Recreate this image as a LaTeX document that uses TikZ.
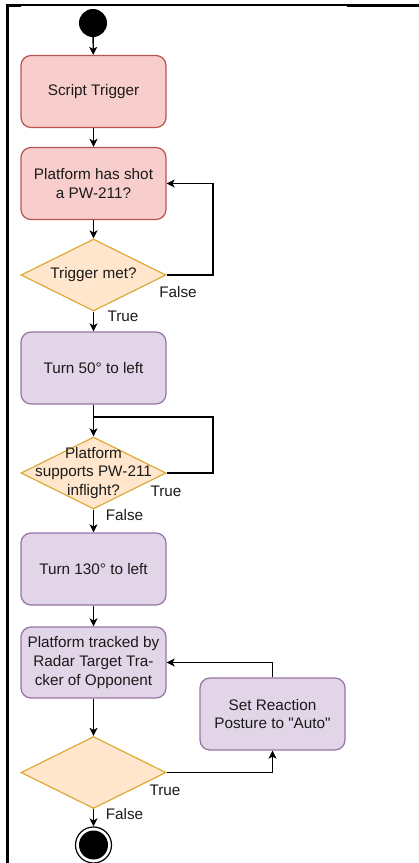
\documentclass[tikz,border=0pt]{standalone}
\usepackage{fontspec}
\setmainfont{Liberation Sans}
\usetikzlibrary{shapes.geometric,arrows.meta}
\definecolor{redfill}{HTML}{F8CECC}
\definecolor{redline}{HTML}{B85450}
\definecolor{purfill}{HTML}{E1D5E7}
\definecolor{purline}{HTML}{9673A6}
\definecolor{orfill}{HTML}{FFE6CC}
\definecolor{orline}{HTML}{DDAA33}
\definecolor{txt}{HTML}{1A1A1A}
\tikzset{
  box/.style={draw, rounded corners=10pt, minimum width=145pt, minimum height=72pt, inner sep=0pt, line width=1.2pt, align=center, text=txt},
  redbox/.style={box, fill=redfill, draw=redline},
  purbox/.style={box, fill=purfill, draw=purline},
  dia/.style={diamond, draw=orline, fill=orfill, minimum width=145pt, minimum height=72pt, inner sep=0pt, line width=1.2pt},
  lbl/.style={text=txt, inner sep=0pt, align=center},
  arr/.style={-{Stealth[length=8pt,width=8pt,inset=2pt]}, line width=1.3pt},
  conn/.style={line width=1.3pt},
}
\begin{document}
\begin{tikzpicture}[x=1pt,y=-1pt,font=\fontsize{15.3}{18.6}\selectfont]
\useasboundingbox (0,0) rectangle (419,863);
% frame
\draw[line width=3pt] (7,4) -- (7,863);
\draw[line width=3pt] (5.5,5) -- (21,5);
\draw[line width=1.5pt] (21,5) -- (347,5);
\draw[line width=3pt] (347,5) -- (419,5);
% nodes
\node[circle, fill=black, minimum size=28pt, inner sep=0pt] (start) at (93,23) {};
\node[redbox] (st) at (93.5,91.5) {Script Trigger};
\node[redbox] (ps) at (93.5,183.5) {Platform has shot\\a PW-211?};
\node[dia] (d1) at (93.5,275) {};
\node[lbl] at (d1) {Trigger met?};
\node[purbox] (t50) at (93.5,368) {Turn 50° to left};
\node[dia] (d2) at (93.5,473) {};
\node[lbl] at (d2) {Platform\\supports PW-211\\inflight?};
\node[purbox] (t130) at (93.5,569) {Turn 130° to left};
\node[purbox, minimum height=71pt] (pt) at (93.5,662.5) {Platform tracked by\\Radar Target Tra-\\cker of Opponent};
\node[purbox] (sr) at (272.5,714) {Set Reaction\\Posture to \textquotedbl Auto\textquotedbl};
\node[dia] (d3) at (93.5,772.5) {};
\node[circle, draw=black, fill=white, line width=1.2pt, minimum size=36pt, inner sep=0pt] (end) at (93.5,845) {};
\fill[black] (end.center) circle (14.5pt);
% connectors
\draw[arr] (start) -- (st);
\draw[arr] (st) -- (ps);
\draw[arr] (ps) -- (d1);
\coordinate (c1) at (213,275);
\draw[arr] (d1.east) -- (c1) |- (ps.east);
\node[lbl] at (178,292) {False};
\draw[arr] (d1) -- (t50);
\node[lbl] at (123,316) {True};
\draw[arr] (t50) -- (d2);
\coordinate (j1) at (93.5,417);
\coordinate (c2) at (213,473);
\draw[conn] (d2.east) -- (c2) |- (j1);
\node[lbl] at (166,491) {True};
\draw[arr] (d2) -- (t130);
\node[lbl] at (124.5,515) {False};
\draw[arr] (t130) -- (pt);
\draw[arr] (sr.north) |- (pt.east);
\draw[arr] (pt) -- (d3);
\draw[arr] (d3.east) -| (sr.south);
\node[lbl] at (165,790) {True};
\draw[arr] (d3) -- (end);
\node[lbl] at (124.5,814) {False};
\end{tikzpicture}
\end{document}
